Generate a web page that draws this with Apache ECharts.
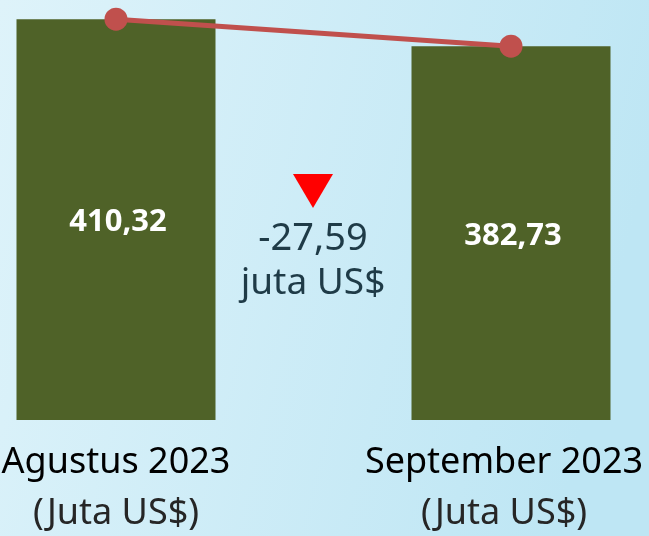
<!DOCTYPE html>
<html>
<head>
<meta charset="utf-8">
<script src="https://cdn.jsdelivr.net/npm/echarts@6/dist/echarts.min.js"></script>
<style>
    html, body { margin: 0; padding: 0; }
    #chart { width: 649px; height: 536px; }
</style>
</head>
<body>
<div id="chart"></div>
<script>
    // data
    const months = ["Agustus 2023", "September 2023"];
    const unitLabel = "(Juta US$)";
    const ekspor = [410.32, 382.73];

    const fmt = v => v.toFixed(2).replace(".", ",");
    const selisih = ekspor[1] - ekspor[0];

    const myChart = echarts.init(document.getElementById("chart"));
    const option = {
        backgroundColor: {
            type: "linear", x: 0, y: 0, x2: 1, y2: 0.3,
            colorStops: [
                { offset: 0, color: "#def3fa" },
                { offset: 1, color: "#bee6f4" }
            ]
        },
        textStyle: { fontFamily: "Noto Sans" },
        grid: { left: 116, right: 138, top: 0, bottom: 116, outerBoundsMode: "none", containLabel: false },
        xAxis: {
            type: "category",
            data: months,
            boundaryGap: false,
            axisLine: { show: false },
            axisTick: { show: false },
            axisLabel: {
                margin: 18,
                interval: 0,
                formatter: (v, i) => i === 0
                    ? "{a|" + v + "}\n{b|" + unitLabel + "}"
                    : "{a2|" + v + "}\n{b2|" + unitLabel + "}",
                rich: {
                    a: { fontSize: 36, lineHeight: 50, color: "#000000", fontFamily: "Noto Sans" },
                    b: { fontSize: 36, lineHeight: 52, color: "#262626", fontFamily: "Noto Sans" },
                    a2: { fontSize: 36, lineHeight: 50, color: "#000000", fontFamily: "Noto Sans", padding: [0, 14, 0, 0] },
                    b2: { fontSize: 36, lineHeight: 52, color: "#262626", fontFamily: "Noto Sans", padding: [0, 14, 0, 0] }
                }
            }
        },
        yAxis: { type: "value", min: 0, max: 430, show: false },
        series: [
            {
                type: "bar",
                data: ekspor,
                barWidth: 199,
                itemStyle: { color: "#4f6228" },
                label: {
                    show: true,
                    position: "inside",
                    offset: [2, 3],
                    formatter: p => fmt(p.value),
                    color: "#ffffff",
                    fontSize: 31,
                    fontWeight: "bold",
                    fontFamily: "Noto Sans"
                }
            },
            {
                type: "line",
                data: ekspor,
                symbol: "circle",
                symbolSize: 23,
                lineStyle: { color: "#c0504d", width: 5 },
                itemStyle: { color: "#c0504d" },
                z: 5
            }
        ],
        graphic: [
            {
                type: "polygon",
                shape: { points: [[293, 174], [333, 174], [313, 208]] },
                style: { fill: "#ff0000" }
            },
            {
                type: "text",
                x: 313, y: 239,
                style: {
                    text: fmt(selisih),
                    fontSize: 38, fontFamily: "Noto Sans",
                    fill: "#1f3b47", align: "center", verticalAlign: "middle"
                }
            },
            {
                type: "text",
                x: 313, y: 283,
                style: {
                    text: "juta US$",
                    fontSize: 37, fontFamily: "Noto Sans",
                    fill: "#1f3b47", align: "center", verticalAlign: "middle"
                }
            }
        ]
    };
    myChart.setOption(option);
</script>
</body>
</html>
